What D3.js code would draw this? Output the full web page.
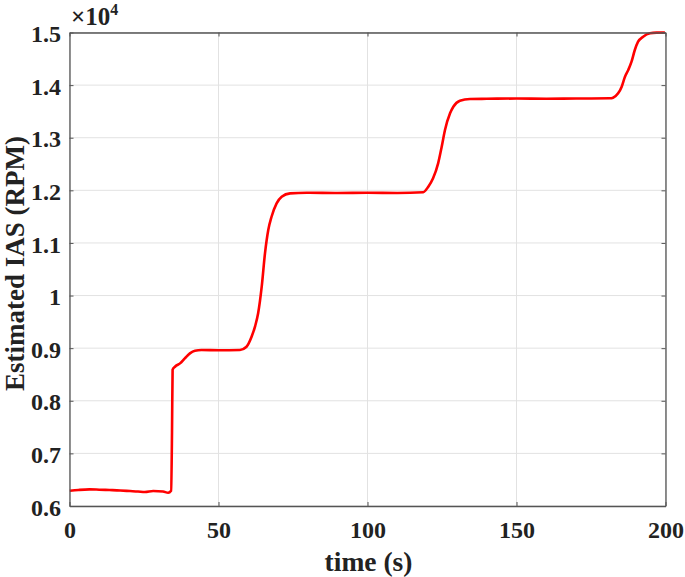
<!DOCTYPE html>
<html>
<head>
<meta charset="utf-8">
<script src="https://cdn.jsdelivr.net/npm/d3@7"></script>
<style>
  body { margin: 0; background: #fff; }
  text { font-family: "Liberation Serif", "Times New Roman", serif; font-weight: bold; fill: #222; }
</style>
</head>
<body>
<div id="chart"></div>
<script>
// Estimated IAS (time in s, speed in RPM)
var timeS = [0.1, 3, 6.7, 10, 13.4, 17, 20.3, 23, 25.3, 28.1, 31.4, 33.1, 34.1, 34.4, 34.6,
  35.4, 37.1, 38.7, 40.4, 42.1, 44.3, 50, 57.2, 59.4, 61.1, 62.3, 63.3, 64.5, 65.6, 66.7,
  67.8, 69.5, 71.2, 74, 79.6, 90, 100, 110, 118.7, 120.4, 122, 123.7, 124.9, 126, 127.7,
  128.8, 131, 134.4, 140, 150, 160, 170, 181.3, 182.4, 184.1, 185.3, 186.4, 187.5, 188.6,
  189.7, 190.8, 192.5, 194.8, 197, 199.8];
var iasRpm = [6290, 6305, 6316, 6310, 6303, 6295, 6284, 6275, 6265, 6284, 6275, 6252, 6290, 7400, 8590,
  8647, 8711, 8806, 8901, 8951, 8964, 8960, 8966, 9027, 9217, 9420, 9663, 10168, 10803, 11246,
  11498, 11753, 11878, 11943, 11955, 11950, 11955, 11950, 11965, 12069, 12228, 12513, 12829, 13147, 13464,
  13589, 13704, 13736, 13740, 13745, 13742, 13745, 13749, 13761, 13844, 13970, 14160, 14287, 14445,
  14667, 14825, 14920, 14985, 14998, 15000];

var xTicks = [0, 50, 100, 150, 200];
var yTicks = [6000, 7000, 8000, 9000, 10000, 11000, 12000, 13000, 14000, 15000];
var yTickLabels = ["0.6", "0.7", "0.8", "0.9", "1", "1.1", "1.2", "1.3", "1.4", "1.5"];

var svgWidth = 685;
var svgHeight = 577;

var margin = { top: 32.5, right: 19.5, bottom: 71, left: 69.5 };
var width = svgWidth - margin.left - margin.right;
var height = svgHeight - margin.top - margin.bottom;

var svg = d3.select("#chart")
  .append("svg")
  .attr("width", svgWidth)
  .attr("height", svgHeight);

var chartGroup = svg.append("g")
  .attr("transform", `translate(${margin.left}, ${margin.top})`);

var xScale = d3.scaleLinear().domain([0, 200]).range([0, width]);
var yScale = d3.scaleLinear().domain([6000, 15000]).range([height, 0]);

// grid lines
chartGroup.append("g")
  .selectAll("line")
  .data(xTicks)
  .enter()
  .append("line")
  .attr("x1", d => xScale(d)).attr("x2", d => xScale(d))
  .attr("y1", 0).attr("y2", height)
  .attr("stroke", "#e2e2e2").attr("stroke-width", 1);

chartGroup.append("g")
  .selectAll("line")
  .data(yTicks)
  .enter()
  .append("line")
  .attr("x1", 0).attr("x2", width)
  .attr("y1", d => yScale(d)).attr("y2", d => yScale(d))
  .attr("stroke", "#e2e2e2").attr("stroke-width", 1);

// the line
var line = d3.line()
  .x((d, i) => xScale(timeS[i]))
  .y(d => yScale(d))
  .curve(d3.curveMonotoneX);

chartGroup.append("path")
  .datum(iasRpm)
  .attr("d", line)
  .attr("fill", "none")
  .attr("stroke", "#ff0000")
  .attr("stroke-width", 2.6)
  .attr("stroke-linejoin", "round");

// axes, ticks pointing inward on all four sides
var bottomAxis = d3.axisBottom(xScale).tickValues(xTicks).tickSizeInner(-4).tickSizeOuter(0);
var topAxis = d3.axisTop(xScale).tickValues(xTicks).tickSizeInner(-4).tickSizeOuter(0).tickFormat("");
var leftAxis = d3.axisLeft(yScale).tickValues(yTicks).tickSizeInner(-4).tickSizeOuter(0)
  .tickFormat((d, i) => yTickLabels[i]);
var rightAxis = d3.axisRight(yScale).tickValues(yTicks).tickSizeInner(-4).tickSizeOuter(0).tickFormat("");

var axes = [
  chartGroup.append("g").attr("transform", `translate(0, ${height})`).call(bottomAxis),
  chartGroup.append("g").call(topAxis),
  chartGroup.append("g").call(leftAxis),
  chartGroup.append("g").attr("transform", `translate(${width}, 0)`).call(rightAxis)
];
axes.forEach(function(g) {
  g.select(".domain").attr("stroke", "#555").attr("stroke-width", 1.3);
  g.selectAll(".tick line").attr("stroke", "#555");
  g.selectAll(".tick text")
    .attr("font-family", "Liberation Serif")
    .attr("font-weight", "bold")
    .attr("font-size", "24px")
    .attr("fill", "#222");
});
axes[0].selectAll(".tick text").attr("y", 32).attr("dy", 0);
axes[2].selectAll(".tick text").attr("x", -8.5).attr("dy", "0.38em");

// exponent label
var expText = chartGroup.append("text")
  .attr("x", 1.5)
  .attr("y", -7.5)
  .attr("font-size", "25px");
expText.append("tspan").text("\u00d710");
expText.append("tspan").attr("dy", -10).attr("font-size", "16px").text("4");

// axis titles
chartGroup.append("text")
  .attr("transform", `translate(${width / 2 + 1}, ${height + 65})`)
  .style("text-anchor", "middle")
  .attr("font-size", "27.5px")
  .text("time (s)");

chartGroup.append("text")
  .attr("transform", "rotate(-90)")
  .attr("y", 24 - margin.left)
  .attr("x", -231)
  .style("text-anchor", "middle")
  .attr("font-size", "27px")
  .text("Estimated IAS (RPM)");
</script>
</body>
</html>
